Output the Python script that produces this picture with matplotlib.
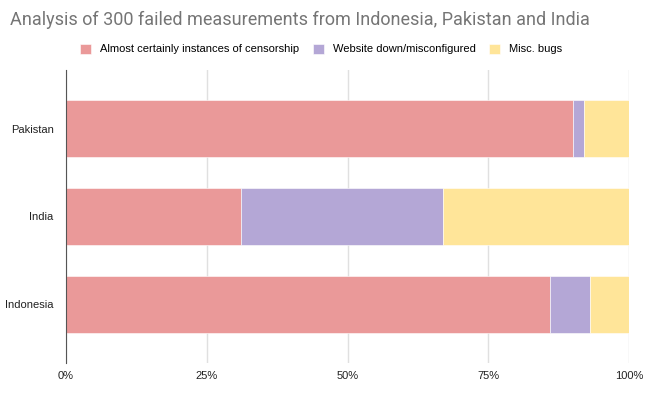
import numpy as np
import matplotlib.pyplot as plt

countries = ['Indonesia', 'India', 'Pakistan']
censorship = [86, 31, 90]
website_down = [7, 36, 2]
misc_bugs = [7, 33, 8]
series_names = ['Almost certainly instances of censorship',
                'Website down/misconfigured', 'Misc. bugs']
colors = ['#ea9999', '#b4a7d6', '#ffe599']

fig = plt.figure(figsize=(6.45, 3.93), dpi=100)
ax = fig.add_axes([66 / 645, 1 - 363 / 393, 563 / 645, 293 / 393])

y = np.arange(len(countries))
left = np.zeros(len(countries))
for vals, name, col in zip([censorship, website_down, misc_bugs], series_names, colors):
    ax.barh(y, vals, left=left, height=0.65, color=col, label=name,
            edgecolor='white', linewidth=0.4, zorder=3)
    left += np.array(vals)

ax.set_xlim(0, 100)
ax.set_ylim(-0.67, 2.67)
ax.set_yticks(y)
ax.set_yticklabels(countries, fontsize=8, family='Liberation Sans', color='#222222')
ax.set_xticks([0, 25, 50, 75, 100])
ax.set_xticklabels(['0%', '25%', '50%', '75%', '100%'], fontsize=8,
                   family='Liberation Sans', color='#222222')
ax.tick_params(length=0)
ax.tick_params(axis='x', pad=6)
ax.tick_params(axis='y', pad=9)
ax.grid(axis='x', color='#e0e0e0', linewidth=1, zorder=0)
for s in ['top', 'right', 'bottom']:
    ax.spines[s].set_visible(False)
ax.spines['left'].set_color('#555555')
ax.spines['left'].set_zorder(4)

fig.text(10 / 645, 1 - 20 / 393, 'Analysis of 300 failed measurements from Indonesia, Pakistan and India',
         fontsize=13, family='Roboto', color='#757575', va='center', ha='left')

fig.legend(loc='center', bbox_to_anchor=(321 / 645, 1 - 49 / 393), ncol=3, frameon=False,
           prop={'family': 'Liberation Sans', 'size': 8}, handlelength=1.0, handleheight=1.0,
           handletextpad=0.8, columnspacing=1.2)

plt.savefig('out.png', dpi=100)
